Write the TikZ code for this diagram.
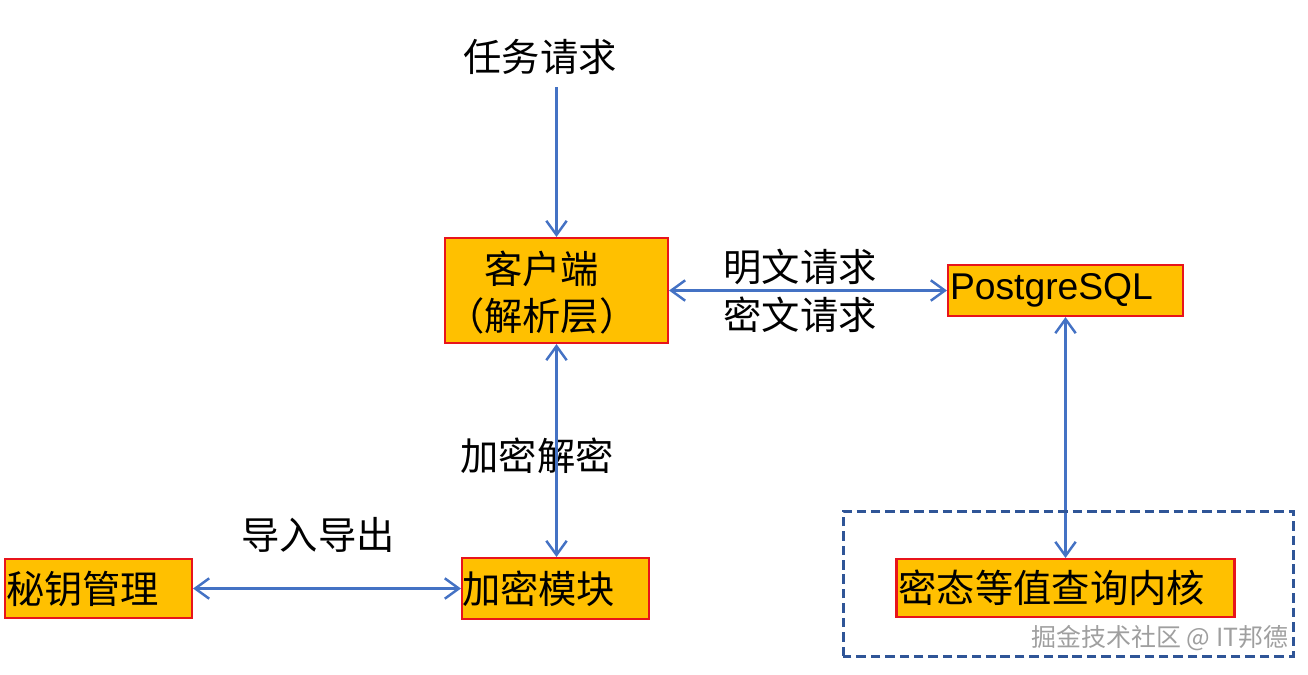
\documentclass[tikz,border=0pt]{standalone}
\usepackage{fontspec}
\setmainfont{Liberation Sans}
\newfontfamily\cjk{Noto Sans CJK SC}
\usetikzlibrary{positioning,arrows.meta,calc}
\definecolor{boxfill}{HTML}{FFC000}
\definecolor{boxline}{HTML}{E8141B}
\definecolor{linkblue}{HTML}{4472C4}
\definecolor{frameblue}{HTML}{2F5597}

\begin{document}
\begin{tikzpicture}[every node/.style={on grid, font=\cjk\fontsize{10.9}{13}\selectfont},
					box/.style={draw=boxline, fill=boxfill, line width=0.6pt, align=left, inner ysep=0pt},
					link/.style={draw=linkblue, line width=0.7pt},
					frame/.style={draw=frameblue, line width=0.85pt, dash pattern=on 2.7pt off 1.4pt},
					>={Straight Barb[length=4pt,width=5.8pt]}]
					\useasboundingbox (0,0) rectangle (13.08,6.74);
					
					\node[box, text width=2.13cm, inner xsep=0.05cm, minimum height=1.05cm] (client) at (5.565,3.835)
						{\hspace*{-0.04cm}\raisebox{-0.07cm}[\height][\depth]{\begin{tabular}{@{}c@{}}客户端\\（解析层）\end{tabular}}};
					\node[above=2.335cm of client, xshift=-0.165cm] (task) {任务请求};
					\node[box, right=5.09cm of client, text width=2.31cm, inner xsep=0.02cm, minimum height=0.51cm,
						font=\fontsize{10.6}{13}\selectfont] (pg) {PostgreSQL};
					\node[box, below=2.98cm of client, xshift=-0.01cm, text width=1.87cm, inner xsep=0pt, minimum height=0.61cm] (enc) {加密模块};
					\node[box, left=4.57cm of enc, text width=1.85cm, inner xsep=0.01cm, minimum height=0.59cm] (key) {秘钥管理};
					\node[box, below=2.975cm of pg, text width=3.34cm, inner xsep=0.02cm, minimum height=0.58cm] (core) {密态等值查询内核};
					
					% labels
					\node (plain) at (8.00,4.07) {明文请求};
					\node (cipher) at (8.00,3.59) {密文请求};
					\node (crypt) at (5.37,2.18) {加密解密};
					\node (io) at (3.18,1.39) {导入导出};
					
					\draw[link,->] (client.north |- task.south) -- (client.north);
					\draw[link,<->] (client.east) -- (client.east -| pg.west);
					\draw[link,<->] (client.south) -- (client.south |- enc.north);
					\draw[link,<->] (key.east) -- (key.east -| enc.west);
					\draw[link,<->] (pg.south) -- (pg.south |- core.north);
					
					% kernel frame
					\coordinate (fsw) at (8.43,0.18);
					\coordinate (fne) at (12.93,1.63);
					\draw[frame] (fsw) rectangle (fne);
					\node[font=\cjk\fontsize{7.1}{8}\selectfont, text=gray!75] (mark) at (11.60,0.36) {掘金技术社区 @ IT邦德};
				\end{tikzpicture}
\end{document}
